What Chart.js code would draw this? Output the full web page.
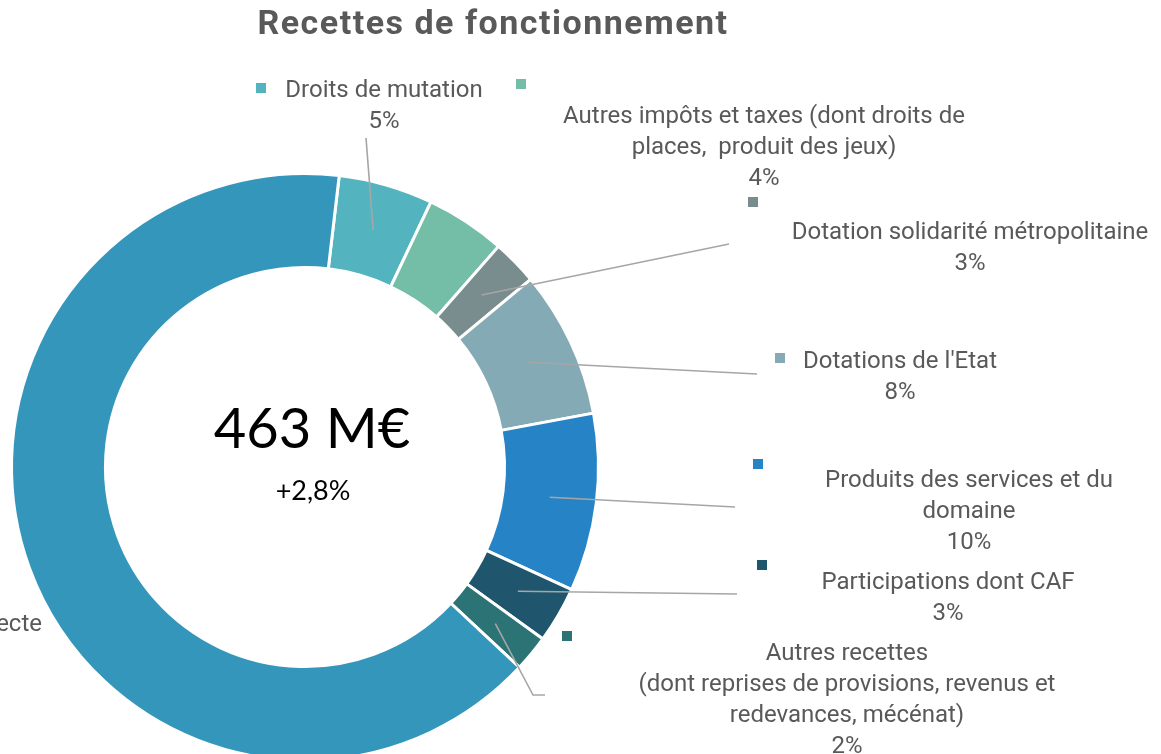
<!DOCTYPE html>
<html><head><meta charset="utf-8">
<script src="https://cdn.jsdelivr.net/npm/chart.js@4.4.1/dist/chart.umd.min.js"></script>
<style>
html,body{margin:0;padding:0;background:#fff;overflow:hidden;width:1161px;height:754px}
#wrap{position:absolute;left:0;top:0;width:1161px;height:800px}
</style>
</head><body><div id="wrap"><canvas id="c" width="1161" height="800"></canvas></div>
<script>
const chartTitle = 'Recettes de fonctionnement';
const categories = [
  'Droits de mutation',
  'Autres impôts et taxes (dont droits de\nplaces,  produit des jeux)',
  'Dotation solidarité métropolitaine',
  "Dotations de l'Etat",
  'Produits des services et du\ndomaine',
  'Participations dont CAF',
  'Autres recettes\n(dont reprises de provisions, revenus et\nredevances, mécénat)',
  'Fiscalité directe'
];
const shares = [5.2, 4.4, 2.5, 8.1, 9.8, 3.1, 2.0, 64.9];
const colors = ['#53B4BF', '#74BDA7', '#798D8F', '#84ABB5', '#2683C6', '#1F566E', '#2C7376', '#3596BC'];
const totalLabel = '463 M€';
const changeLabel = '+2,8%';

// label placement (layout only)
const labelLayout = [
  {sq:[256,83], x:384, y:97, align:'center', line:[[366,138]]},
  {sq:[516,79], x:764, y:123, align:'center', line:null},
  {sq:[748,197], x:970, y:239, align:'center', line:[[729,244]]},
  {sq:[775,353], x:900, y:368, align:'center', line:[[757,374]]},
  {sq:[753,459], x:969, y:487, align:'center', line:[[735,507]]},
  {sq:[757,560], x:948, y:589, align:'center', line:[[737,594]]},
  {sq:[562,631], x:847, y:660, align:'center', line:[[533,695],[545,695]]},
  {sq:null, x:42, y:631, align:'right', line:null}
];

const LABEL_FONT = '24px Roboto';
const LINE_H = 31;
const TEXT_COLOR = '#595959';

const annot = {
  id: 'annot',
  afterDraw(chart) {
    const ctx = chart.ctx;
    const meta = chart.getDatasetMeta(0);
    const total = shares.reduce((a, b) => a + b, 0);
    ctx.save();
    // title
    ctx.fillStyle = TEXT_COLOR;
    ctx.font = 'bold 34px Roboto';
    ctx.textAlign = 'center';
    ctx.textBaseline = 'alphabetic';
    if ('letterSpacing' in ctx) ctx.letterSpacing = '1.5px';
    ctx.fillText(chartTitle, 493, 34);
    if ('letterSpacing' in ctx) ctx.letterSpacing = '0px';
    // center
    const cx = (chart.chartArea.left + chart.chartArea.right) / 2;
    ctx.fillStyle = '#000';
    ctx.font = '56px Lato';
    ctx.fillText(totalLabel, cx + 7, 448);
    ctx.font = '27px Lato';
    ctx.fillText(changeLabel, cx + 8, 500);
    // leader lines
    ctx.strokeStyle = '#A6A6A6';
    ctx.lineWidth = 1.6;
    meta.data.forEach((arc, i) => {
      const L = labelLayout[i];
      if (!L.line) return;
      const p = arc.tooltipPosition();
      ctx.beginPath();
      ctx.moveTo(p.x, p.y);
      L.line.forEach(pt => ctx.lineTo(pt[0], pt[1]));
      ctx.stroke();
    });
    // labels
    ctx.font = LABEL_FONT;
    meta.data.forEach((arc, i) => {
      const L = labelLayout[i];
      if (L.sq) {
        ctx.fillStyle = colors[i];
        ctx.fillRect(L.sq[0], L.sq[1], 10, 10);
      }
      ctx.fillStyle = TEXT_COLOR;
      const lines = categories[i].split('\n');
      lines.push(Math.round(shares[i] / total * 100) + '%');
      ctx.textAlign = 'center';
      let c = L.x;
      if (L.align === 'right') c = L.x - ctx.measureText(lines[0]).width / 2;
      lines.forEach((t, k) => ctx.fillText(t, c, L.y + k * LINE_H));
    });
    ctx.restore();
  }
};

new Chart(document.getElementById('c'), {
  type: 'doughnut',
  data: {
    labels: categories,
    datasets: [{
      data: shares,
      backgroundColor: colors,
      borderColor: '#ffffff',
      borderWidth: 3
    }]
  },
  options: {
    responsive: false,
    animation: false,
    rotation: 6.7,
    radius: 293.5,
    cutout: 197.5,
    layout: {padding: {left: 13, top: 175, right: 564, bottom: 41}},
    plugins: {legend: {display: false}, tooltip: {enabled: false}, title: {display: false}}
  },
  plugins: [annot]
});
</script>
</body></html>
